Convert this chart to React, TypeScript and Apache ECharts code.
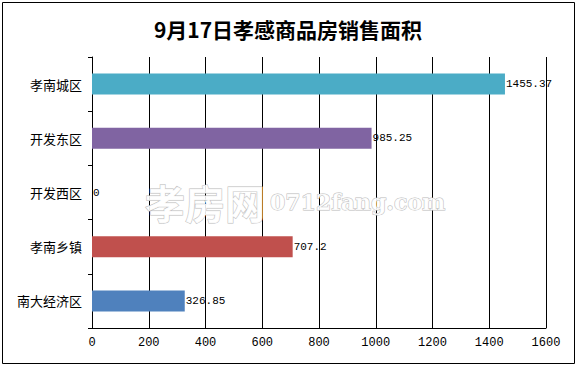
import React, { useEffect, useRef } from "react";
import * as echarts from "echarts";

const categories = ["孝南城区", "开发东区", "开发西区", "孝南乡镇", "南大经济区"];
const values = [1455.37, 985.25, 0, 707.2, 326.85];
const colors = ["#4BACC6", "#8064A2", "#9BBB59", "#C0504D", "#4F81BD"];
const titleText = "9月17日孝感商品房销售面积";

export default function App() {
  const ref = useRef<HTMLDivElement>(null);
  useEffect(() => {
    const chart = echarts.init(ref.current!, undefined, { renderer: "svg" });
    chart.setOption({
      animation: false,
      backgroundColor: "#fff",
      title: {
        text: titleText,
        left: "center",
        top: 13,
        textStyle: {
          fontFamily: "Noto Sans CJK SC",
          fontWeight: "bold",
          fontSize: 21,
          color: "#000",
        },
      },
      graphic: [
        {
          type: "rect",
          shape: { x: 2.5, y: 2.5, width: 572, height: 361 },
          style: { fill: "none", stroke: "#000", lineWidth: 1 },
          silent: true,
          z: 0,
        },
        {
          type: "text",
          x: 145,
          y: 182,
          z: 1,
          silent: true,
          style: {
            text: "孝房网",
            font: "bold 40px 'Noto Sans CJK SC'",
            fill: "rgba(255,255,255,0.9)",
            stroke: "#bbbbbb",
            lineWidth: 1,
          },
        },
        {
          type: "text",
          x: 270,
          y: 191,
          z: 1,
          silent: true,
          style: {
            text: "0712fang.com",
            font: "bold 22px 'DejaVu Serif'",
            fill: "rgba(255,255,255,0.9)",
            stroke: "#bbbbbb",
            lineWidth: 1,
          },
        },
      ],
      grid: { left: 92, right: 30, top: 57, bottom: 38 },
      xAxis: {
        type: "value",
        min: 0,
        max: 1600,
        interval: 200,
        axisLine: { show: true, lineStyle: { color: "#000", width: 1 } },
        axisTick: { show: false },
        axisLabel: {
          color: "#000",
          fontSize: 12,
          fontFamily: "Liberation Mono",
          margin: 9,
          formatter: (v: number) => String(v),
        },
        splitLine: { show: true, lineStyle: { color: "#000", width: 1 } },
      },
      yAxis: {
        type: "category",
        data: categories,
        inverse: true,
        axisLine: { show: true, lineStyle: { color: "#000", width: 1 } },
        axisTick: { show: true, length: 4, inside: false, lineStyle: { color: "#000" } },
        axisLabel: {
          color: "#000",
          fontSize: 13,
          fontFamily: "Noto Sans CJK SC",
          margin: 10,
        },
      },
      series: [
        {
          type: "bar",
          data: values.map((v, i) => ({ value: v, itemStyle: { color: colors[i] } })),
          barWidth: 21,
          z: 3,
          label: {
            show: true,
            position: "right",
            distance: 1,
            color: "#000",
            fontSize: 11,
            fontFamily: "Liberation Mono",
          },
        },
      ],
    });
    return () => chart.dispose();
  }, []);
  return (
    <div
      ref={ref}
      style={{ position: "fixed", left: 0, top: 0, width: 576, height: 366 }}
    />
  );
}
